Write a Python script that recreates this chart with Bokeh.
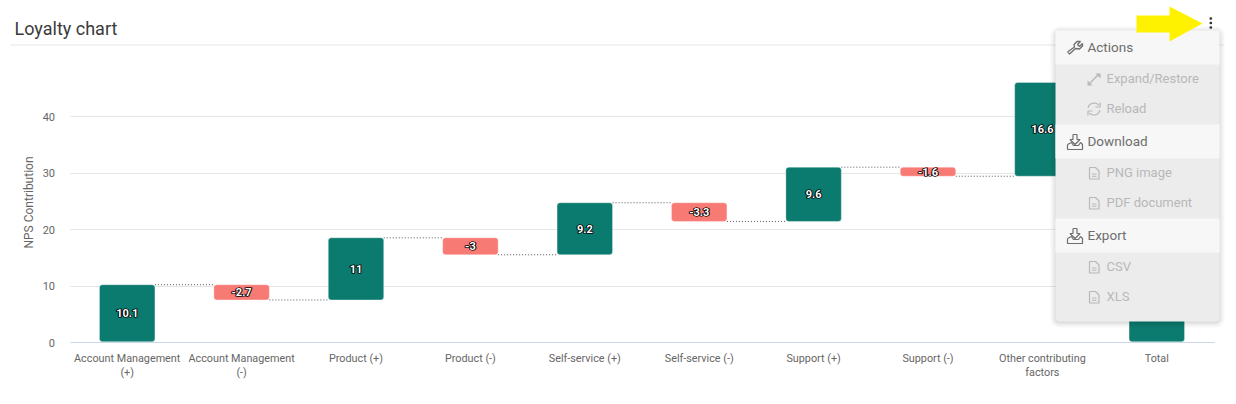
import math
from bokeh.plotting import figure
from bokeh.models import Range1d, FixedTicker, ColumnDataSource, BoxAnnotation, Label, PolyAnnotation
from bokeh.core.properties import value
from bokeh.embed import file_html
from bokeh.resources import INLINE

categories = ["Account Management\n(+)", "Account Management\n(-)", "Product (+)", "Product (-)",
              "Self-service (+)", "Self-service (-)", "Support (+)", "Support (-)",
              "Other contributing\nfactors", "Total"]
values = [10.1, -2.7, 11, -3, 9.2, -3.3, 9.6, -1.6, 16.6]
labels = ["10.1", "-2.7", "11", "-3", "9.2", "-3.3", "9.6", "-1.6", "16.6"]
y_ticks = [0, 10, 20, 30, 40]

GREEN, RED = "#0c7b6f", "#f87a74"
FONT = "Roboto"
W, H = 1236, 404
X0, XU = 69.5, 114.4     # page x of the first category edge, px per category
Y0, YU = 342.4, 5.65     # page y of value 0, px per unit
NUDGE = 0.2              # bars sit about a pixel above the baseline

# running totals -> floating bars
bottoms, tops, colors, levels = [], [], [], []
run = 0.0
for v in values:
    new = run + v
    bottoms.append(min(run, new) + NUDGE); tops.append(max(run, new) + NUDGE)
    colors.append(GREEN if v >= 0 else RED)
    levels.append(new + NUDGE)
    run = new
bottoms.append(NUDGE); tops.append(run + NUDGE); colors.append(GREEN)
xs = [i + 0.5 for i in range(len(categories))]

# the frame fills the whole canvas, the axes sit inside it at 0
p = figure(width=W, height=H, output_backend="svg", toolbar_location=None,
           x_range=Range1d(-X0 / XU, (W - X0) / XU),
           y_range=Range1d(-(H - Y0) / YU, Y0 / YU),
           min_border_left=0, min_border_right=0, min_border_top=0, min_border_bottom=0,
           outline_line_color=None, background_fill_color="white", border_fill_color="white")

src = ColumnDataSource(dict(x=xs, bottom=bottoms, top=tops, color=colors))
p.vbar(x="x", bottom="bottom", top="top", width=0.485, source=src, fill_color="color",
       line_color="#ffffff", line_alpha=0.35, line_width=1, border_radius=3)

# connectors
BW = 0.485 / 2
p.segment(x0=[xs[i] + BW for i in range(9)], x1=[xs[i + 1] - BW for i in range(9)], y0=levels, y1=levels,
          line_color="#555555", line_width=1, line_dash="1 2")

# value labels: black outline underneath, white fill on top
mids = [(bottoms[i] + tops[i]) / 2 for i in range(9)]
for dx in (-0.5, 0.5):
    p.text(x=xs[:9], y=mids, text=labels, text_align="center", text_baseline="middle", x_offset=dx,
           text_color="#000000", text_font=value(FONT), text_font_size="11px", text_font_style="bold",
           text_outline_color="#000000")
p.text(x=xs[:9], y=mids, text=labels, text_align="center", text_baseline="middle",
       text_color="#ffffff", text_font=value(FONT), text_font_size="11px", text_font_style="bold")

xa, ya = p.xaxis[0], p.yaxis[0]
ya.fixed_location = 0
ya.ticker = FixedTicker(ticks=y_ticks)
ya.axis_label = "NPS Contribution"
ya.axis_label_text_font = FONT
ya.axis_label_text_font_size = "12px"
ya.axis_label_text_font_style = "normal"
ya.axis_label_text_color = "#666666"
ya.axis_label_standoff = 4
ya.axis_line_color = None
ya.major_tick_line_color = None
ya.minor_tick_line_color = None
ya.major_tick_out = 0
ya.major_label_text_font = FONT
ya.major_label_text_font_size = "11px"
ya.major_label_text_color = "#666666"
ya.major_label_standoff = 15

xa.fixed_location = 0
xa.bounds = (0, 10)
xa.ticker = FixedTicker(ticks=xs)
xa.major_label_overrides = {x: c for x, c in zip(xs, categories)}
xa.axis_line_color = "#ccd6eb"
xa.major_tick_line_color = None
xa.minor_tick_line_color = None
xa.major_tick_out = 0
xa.major_label_text_font = FONT
xa.major_label_text_font_size = "10.8px"
xa.major_label_text_color = "#666666"
xa.major_label_text_line_height = 1.05
xa.major_label_standoff = 9
xa.major_label_orientation = "horizontal"

p.xgrid.grid_line_color = None
p.ygrid.grid_line_color = "#e6e6e6"
p.ygrid.ticker = FixedTicker(ticks=y_ticks)
p.ygrid.cross_bounds = (0, 10)


# page chrome, given in page pixels
def box(l, t, r, b, color, alpha=1.0, radius=0):
    p.add_layout(BoxAnnotation(left=l, right=r, top=t, bottom=b,
                               left_units="canvas", right_units="canvas", top_units="canvas", bottom_units="canvas",
                               fill_color=color, fill_alpha=alpha, line_color=None, border_radius=radius,
                               level="annotation", editable=False))

def poly(pts, fill):
    p.add_layout(PolyAnnotation(xs=[a for a, _ in pts], ys=[b for _, b in pts],
                                xs_units="canvas", ys_units="canvas",
                                fill_color=fill, fill_alpha=1.0, line_color=None,
                                level="annotation", editable=False))

def stroke(pts, color, width=1.1):
    p.line([(a - X0) / XU for a, _ in pts], [(Y0 - b) / YU for _, b in pts],
           line_color=color, line_width=width, level="overlay")

def arc(cx, cy, r, a0, a1, color, width=1.1):
    pts = [(cx + r * math.cos(math.radians(a0 + (a1 - a0) * i / 16)),
            cy + r * math.sin(math.radians(a0 + (a1 - a0) * i / 16))) for i in range(17)]
    stroke(pts, color, width)

def label(x, y, text, size, color, style="normal"):
    p.add_layout(Label(x=x, y=y, x_units="canvas", y_units="canvas", text=text,
                       text_font=FONT, text_font_size=size, text_color=color, text_font_style=style,
                       text_baseline="middle", text_align="left", level="annotation"))

label(14, 27.5, "Loyalty chart", "18px", "#3a3a3a")
box(10, 44, 1223, 45, "#e6e6e6")

# shadow and menu
for grow, a in [(5, 0.03), (3, 0.04), (1, 0.06)]:
    box(1055 - grow, 30 - grow + 1, 1219 + grow, 321 + grow + 1, "#000000", a, 4 + grow)
box(1055, 30, 1219, 321, "#ececec", 1.0, 4)
for t, b in [(30, 64), (124, 158), (218, 252)]:
    box(1055, t, 1219, b, "#f7f7f7")

HEAD, SUB = "#6e6e6e", "#b8b8b8"
for y, text in [(46.5, "Actions"), (140.5, "Download"), (234.5, "Export")]:
    label(1087, y, text, "13.5px", HEAD)
for y, text in [(77.5, "Expand/Restore"), (107.5, "Reload"), (171.5, "PNG image"),
                (201.5, "PDF document"), (265.5, "CSV"), (295.5, "XLS")]:
    label(1106, y, text, "13px", SUB)

# icons
ICON = "#6e6e6e"
stroke([(1067, 51.5), (1069, 53.5), (1075, 48), (1079, 48.5), (1082, 45.5), (1082, 43), (1079, 46), (1077, 44),
        (1080, 41), (1076.5, 41), (1073.5, 44), (1074, 46.5), (1067, 51.5)], ICON, 1.3)
for c in (141, 235):
    stroke([(1067, c + 3), (1071, c + 1), (1073, c + 4), (1078, c + 4), (1080, c + 1), (1082, c + 3),
            (1082, c + 8), (1067, c + 8), (1067, c + 3)], ICON, 1.2)
    stroke([(1072.5, c - 7), (1076.5, c - 7), (1076.5, c - 2), (1079.5, c - 2), (1074.5, c + 3), (1069.5, c - 2),
            (1072.5, c - 2), (1072.5, c - 7)], ICON, 1.2)
# expand
stroke([(1088.5, 83.5), (1098.5, 73.5)], SUB, 1.4)
poly([(1095, 73), (1100, 73), (1100, 78)], SUB)
poly([(1087, 80), (1087, 85), (1092, 85)], SUB)
# reload
arc(1093.5, 108.5, 6, 190, 320, SUB, 1.2)
arc(1093.5, 108.5, 6, 10, 140, SUB, 1.2)
stroke([(1099.5, 102), (1099.5, 106.5), (1095, 106.5)], SUB, 1.2)
stroke([(1087.5, 115), (1087.5, 110.5), (1092, 110.5)], SUB, 1.2)
# files
for y in (173, 203, 267, 297):
    stroke([(1089, y - 6), (1095, y - 6), (1098.5, y - 2.5), (1098.5, y + 5.5), (1089, y + 5.5), (1089, y - 6)], SUB, 1.2)
    stroke([(1091.5, y + 0.5), (1096, y + 0.5)], SUB, 1.0)
    stroke([(1091.5, y + 2.8), (1096, y + 2.8)], SUB, 1.0)

# yellow arrow
poly([(1136, 15), (1169, 15), (1169, 6), (1202, 23), (1169, 41), (1169, 32), (1136, 32)], "#fff200")
# kebab
for y in (18, 22.5, 27):
    box(1209, y - 1.3, 1211.6, y + 1.3, "#333333", 1.0, 1)

open("out.html", "w").write(file_html(p, INLINE))
